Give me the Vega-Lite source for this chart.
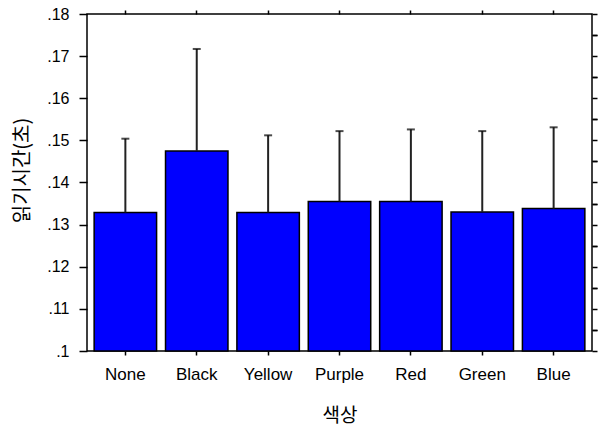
{
  "$schema": "https://vega.github.io/schema/vega-lite/v6.json",
  "width": 505,
  "height": 337,
  "autosize": "none",
  "padding": {"left": 87, "top": 14, "right": 9, "bottom": 76},
  "background": "white",
  "config": {
    "view": {"stroke": "black", "strokeWidth": 1.5},
    "axis": {
      "domain": false,
      "grid": false,
      "tickColor": "black",
      "tickWidth": 1.5,
      "labelColor": "black",
      "titleColor": "black",
      "labelFont": "Liberation Sans",
      "titleFont": "Noto Sans CJK KR",
      "titleFontWeight": "normal"
    }
  },
  "data": {
    "values": [
      {"color": "None", "mean": 0.1329, "upper": 0.1504},
      {"color": "Black", "mean": 0.1475, "upper": 0.1717},
      {"color": "Yellow", "mean": 0.1329, "upper": 0.1512},
      {"color": "Purple", "mean": 0.1355, "upper": 0.1522},
      {"color": "Red", "mean": 0.1355, "upper": 0.1526},
      {"color": "Green", "mean": 0.1330, "upper": 0.1522},
      {"color": "Blue", "mean": 0.1338, "upper": 0.1531}
    ]
  },
  "resolve": {"axis": {"x": "independent", "y": "independent"}},
  "layer": [
    {
      "mark": {"type": "bar", "fill": "#0000ff", "stroke": "black", "strokeWidth": 1.5},
      "encoding": {
        "x": {
          "field": "color", "type": "nominal", "sort": null,
          "scale": {"paddingInner": 0.125, "paddingOuter": 0.1},
          "axis": {"orient": "bottom", "title": "색상", "labelAngle": 0, "labelFontSize": 17, "tickSize": 4, "labelPadding": 11, "titleFontSize": 19, "titlePadding": 24}
        },
        "y": {
          "field": "mean", "type": "quantitative",
          "scale": {"domain": [0.1, 0.18], "zero": false, "nice": false},
          "axis": {"title": "읽기시간(초)", "titleY": 156, "values": [0.1, 0.11, 0.12, 0.13, 0.14, 0.15, 0.16, 0.17, 0.18], "labelExpr": "replace(format(datum.value, '.2~f'), '0.', '.')", "labelFontSize": 16, "tickSize": 8, "labelPadding": 10, "titleFontSize": 20, "titlePadding": 14}
        },
        "y2": {"datum": 0.1}
      }
    },
    {
      "mark": {"type": "rule", "color": "#222222", "strokeWidth": 2},
      "encoding": {
        "x": {"field": "color", "type": "nominal", "sort": null, "axis": null},
        "y": {
          "field": "mean", "type": "quantitative",
          "axis": {"title": null, "labels": false, "tickSize": 5, "values": [0.105, 0.115, 0.125, 0.135, 0.145, 0.155, 0.165, 0.175]}
        },
        "y2": {"field": "upper"}
      }
    },
    {
      "mark": {"type": "tick", "color": "black", "thickness": 2, "size": 8},
      "encoding": {
        "x": {"field": "color", "type": "nominal", "sort": null, "axis": {"orient": "top", "title": null, "labels": false, "tickSize": 4}},
        "y": {
          "field": "upper", "type": "quantitative",
          "axis": {"orient": "right", "title": null, "labels": false, "tickSize": 5, "values": [0.1, 0.105, 0.11, 0.115, 0.12, 0.125, 0.13, 0.135, 0.14, 0.145, 0.15, 0.155, 0.16, 0.165, 0.17, 0.175, 0.18]}
        }
      }
    }
  ]
}
